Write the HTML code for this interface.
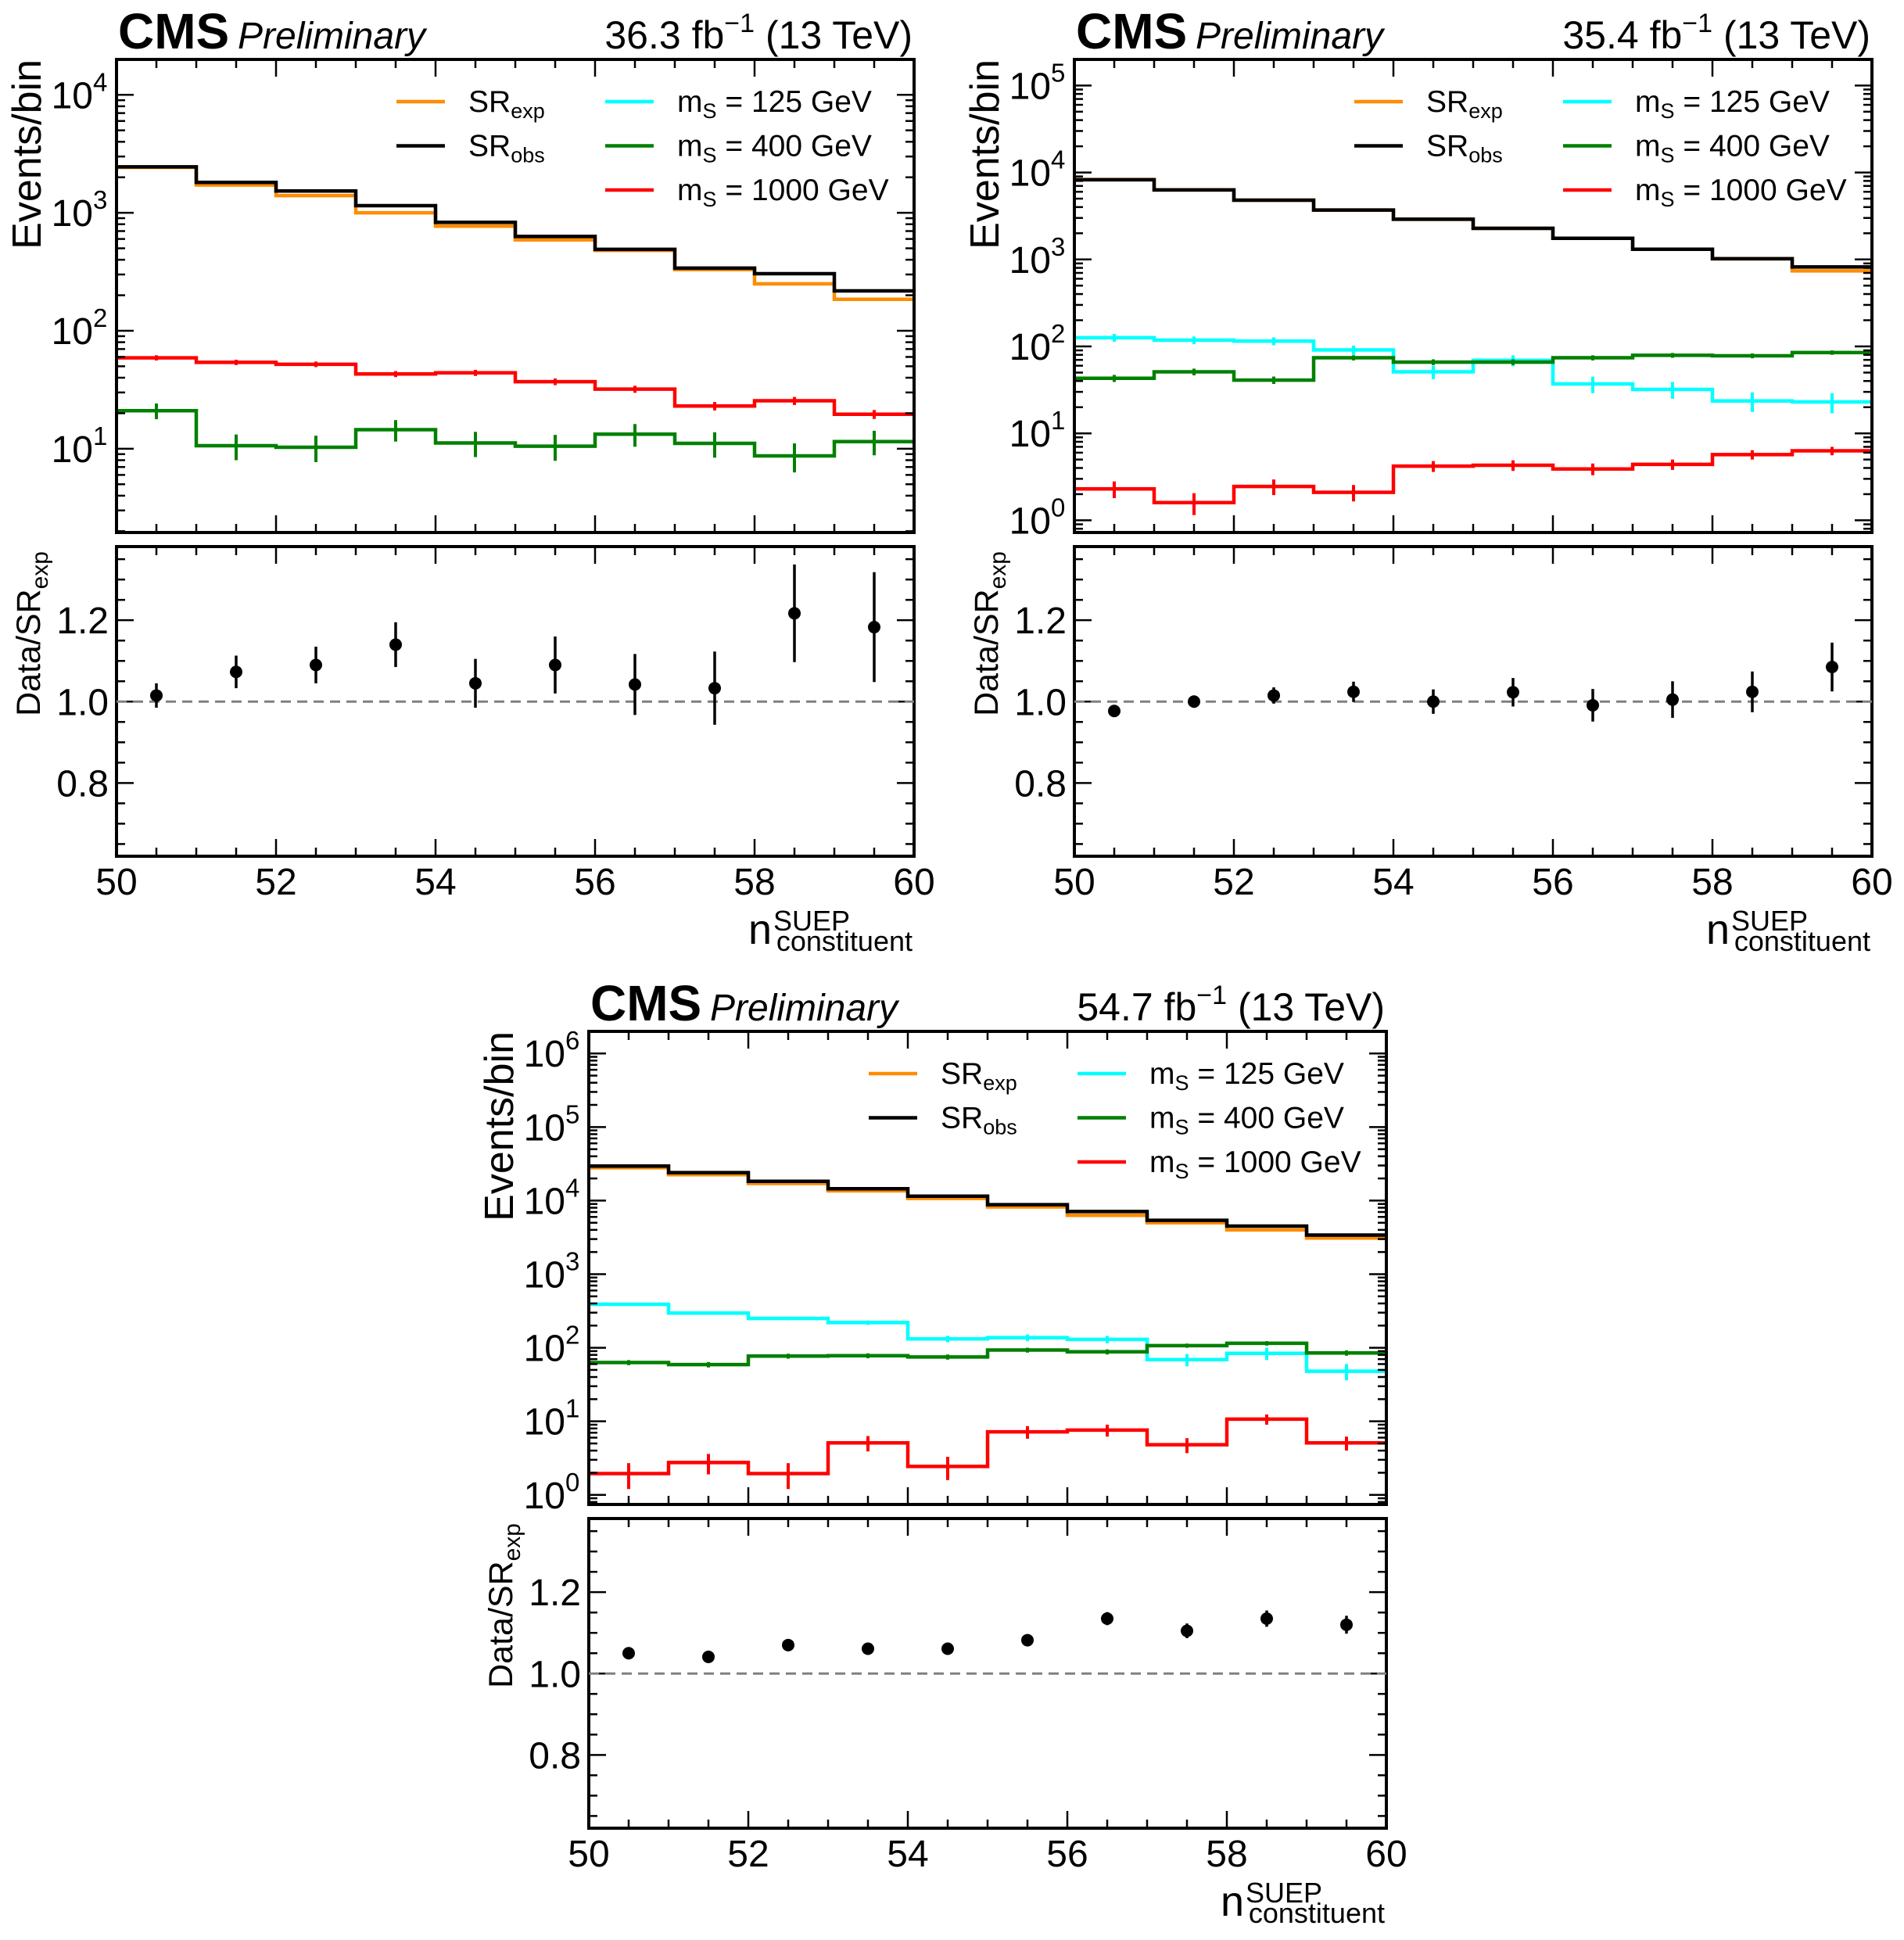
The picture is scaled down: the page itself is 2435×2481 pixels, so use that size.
<!DOCTYPE html>
<html><head><meta charset="utf-8"><style>
html,body{margin:0;padding:0;background:#fff}
svg{display:block;font-family:"Liberation Sans",Arial,sans-serif}
</style></head><body>
<svg id="fig" xmlns="http://www.w3.org/2000/svg" width="2435" height="2481" viewBox="0 0 2435 2481"></svg>
<script>
// ---------- data ----------
const binEdges = [50,51,52,53,54,55,56,57,58,59,60];
const xTicks = [50,52,54,56,58,60];
const ratioTicks = [0.8,1.0,1.2];

// Panel 1 (36.3 fb-1)
const p1Exp = [2430,1720,1400,1000,770,590,480,330,250,185];
const p1Obs = [2450,1810,1530,1150,830,630,490,340,305,218];
const p1Sig400 = [21,10.6,10.3,14.5,11.2,10.5,13.3,11.1,8.7,11.5];
const p1Sig400Err = [3.2,2.6,2.6,3.0,2.7,2.6,2.9,2.7,2.4,2.7];
const p1Sig1000 = [59,54,52,43,44,37,32,23,25.5,19.6];
const p1Sig1000Err = [3,2.8,2.8,2.5,2.6,2.4,2.2,1.9,2.0,1.7];
const p1Ratio = [1.015,1.073,1.09,1.14,1.045,1.09,1.042,1.033,1.217,1.183];
const p1RatioErr = [0.03,0.04,0.045,0.055,0.06,0.07,0.075,0.09,0.12,0.135];

// Panel 2 (35.4 fb-1)
const p2Exp = [8300,6300,4800,3700,2900,2280,1750,1310,1020,740];
const p2Obs = [8250,6300,4800,3700,2900,2280,1750,1310,1020,820];
const p2Sig125 = [126,118,115,91,51,69,37,32,23.6,23];
const p2Sig125Err = [13,12,12,11,9,10,8,7,6,6];
const p2Sig400 = [43,51,41,74,66,66,74,79,78,85];
const p2Sig400Err = [4,4.5,4,5,5,5,5,5,5,5];
const p2Sig1000 = [2.3,1.6,2.45,2.1,4.2,4.3,3.9,4.4,5.7,6.3];
const p2Sig1000Err = [0.5,0.45,0.5,0.45,0.6,0.6,0.6,0.6,0.7,0.7];
const p2Ratio = [0.977,1.0,1.015,1.024,1.0,1.023,0.991,1.005,1.024,1.085];
const p2RatioErr = [0.012,0.015,0.02,0.025,0.03,0.035,0.04,0.045,0.05,0.06];

// Panel 3 (54.7 fb-1)
const p3Exp = [28000,22500,17100,13600,10700,8200,6300,5000,4000,3100];
const p3Obs = [29500,24000,18300,14500,11500,8800,7100,5400,4500,3400];
const p3Sig125 = [390,296,250,220,132,137,130,69,84,48];
const p3Sig125Err = [15,14,14,15,13,14,15,13,16,12];
const p3Sig400 = [63,59,77,78,75,93,88,107,115,85];
const p3Sig400Err = [5,5,6,6,6,7,7,7,8,7];
const p3Sig1000 = [1.95,2.75,1.95,5.1,2.44,7.2,7.6,4.8,10.7,5.1];
const p3Sig1000Err = [0.75,0.85,0.75,1.2,0.85,1.4,1.4,1.1,1.7,1.1];
const p3Ratio = [1.05,1.041,1.07,1.061,1.061,1.082,1.135,1.105,1.135,1.12];
const p3RatioErr = [0.005,0.005,0.007,0.008,0.01,0.012,0.016,0.018,0.02,0.022];

// ---------- drawing ----------
const NS = "http://www.w3.org/2000/svg";
const svg = document.getElementById('fig');
function mk(tag, attrs, parent){
  const e = document.createElementNS(NS, tag);
  for (const k in attrs) e.setAttribute(k, attrs[k]);
  (parent||svg).appendChild(e);
  return e;
}
const COL = {exp:'#ff8c00', obs:'#000000', s125:'#00ffff', s400:'#008000', s1000:'#ff0000'};

function panel(cfg){
  const g = mk('g', {});
  
  
  const L = cfg.L, T = cfg.T, W = 1020, H = 605, RT = T + 623, RH = 396;
  const xs = v => L + (v - 50) / 10 * W;
  const ys = v => T + (cfg.ymax - Math.log10(v)) / (cfg.ymax - cfg.ymin) * H;
  const rs = v => RT + (1.381 - v) / (1.381 - 0.62) * RH;

  const cid = cfg.name + '-clip';
  const cp = mk('clipPath', {id: cid}, g);
  mk('rect', {x:L, y:T, width:W, height:H}, cp);
  const plot = mk('g', {'clip-path':'url(#' + cid + ')'}, g);

  function hist(vals, errs, color, nm, relTick){
    const sg = mk('g', {}, plot);
    
    
    let d = '';
    for (let i = 0; i < vals.length; i++){
      const y = ys(vals[i]);
      d += (i === 0 ? 'M' : 'L') + xs(binEdges[i]) + ' ' + y + ' L' + xs(binEdges[i+1]) + ' ' + y + ' ';
    }
    const p = mk('path', {d: d, fill:'none', stroke:color, 'stroke-width':4.5, 'stroke-linejoin':'miter'}, sg);
    
    
    for (let i = 0; i < vals.length; i++){
      const e = errs ? errs[i] : vals[i] * relTick;
      const xc = xs((binEdges[i] + binEdges[i+1]) / 2);
      const eb = mk('line', {x1:xc, x2:xc, y1:ys(vals[i] + e), y2:ys(Math.max(vals[i] - e, 1e-3)), stroke:color, 'stroke-width':4}, sg);
      
      
    }
  }
  cfg.series.forEach(s => hist(s.v, s.e, s.c, s.n, s.rel));

  [[T,H],[RT,RH]].forEach(([y0,h], idx) => {
    const fr = mk('rect', {x:L, y:y0, width:W, height:h, fill:'none', stroke:'#000', 'stroke-width':4}, g);
    
    
  });

  const tk = mk('g', {stroke:'#000', 'stroke-width':2.5}, g);
  
  
  for (let v = 50.5; v < 60; v += 0.5){
    const major = Math.abs(v/2 - Math.round(v/2)) < 1e-6;
    const len = major ? 22 : 11;
    const x = xs(v);
    [[T,H],[RT,RH]].forEach(([y0,h]) => {
      mk('line', {x1:x, x2:x, y1:y0, y2:y0+len}, tk);
      mk('line', {x1:x, x2:x, y1:y0+h, y2:y0+h-len}, tk);
    });
  }
  for (let dec = Math.floor(cfg.ymin); dec <= Math.ceil(cfg.ymax); dec++){
    for (let m = 1; m <= 9; m++){
      const lv = dec + Math.log10(m);
      if (lv < cfg.ymin || lv > cfg.ymax) continue;
      const y = ys(Math.pow(10, lv));
      const len = m === 1 ? 22 : 11;
      mk('line', {x1:L, x2:L+len, y1:y, y2:y}, tk);
      mk('line', {x1:L+W, x2:L+W-len, y1:y, y2:y}, tk);
      if (m === 1){
        const t = mk('text', {x:L-30, y:y+17, 'text-anchor':'end', 'font-size':48, fill:'#000', stroke:'none'}, g);
        
        
        t.textContent = '10';
        const s = mk('text', {x:L-30, y:y-5, 'text-anchor':'start', 'font-size':33, fill:'#000', stroke:'none'}, g);
        
        
        s.textContent = String(dec);
      }
    }
  }
  for (let k = 13; k <= 27; k++){
    const v = k * 0.05;
    const y = rs(v);
    const major = ratioTicks.some(r => Math.abs(r - v) < 1e-6);
    const len = major ? 22 : 11;
    mk('line', {x1:L, x2:L+len, y1:y, y2:y}, tk);
    mk('line', {x1:L+W, x2:L+W-len, y1:y, y2:y}, tk);
  }
  ratioTicks.forEach(r => {
    const t = mk('text', {x:L-10, y:rs(r)+17, 'text-anchor':'end', 'font-size':48, fill:'#000'}, g);
    
    
    t.textContent = r.toFixed(1);
  });
  xTicks.forEach(v => {
    const t = mk('text', {x:xs(v), y:RT+RH+49, 'text-anchor':'middle', 'font-size':48, fill:'#000'}, g);
    
    
    t.textContent = String(v);
  });

  const ref = mk('line', {x1:L, x2:L+W, y1:rs(1), y2:rs(1), stroke:'#808080', 'stroke-width':3, 'stroke-dasharray':'13 8'}, g);
  
  
  for (let i = 0; i < cfg.ratio.length; i++){
    const xc = xs((binEdges[i] + binEdges[i+1]) / 2);
    const el = mk('line', {x1:xc, x2:xc, y1:rs(cfg.ratio[i] + cfg.ratioErr[i]), y2:rs(cfg.ratio[i] - cfg.ratioErr[i]), stroke:'#000', 'stroke-width':3.5}, g);
    
    
    const c = mk('circle', {cx:xc, cy:rs(cfg.ratio[i]), r:8, fill:'#000'}, g);
    
    
  }

  const cms = mk('text', {x:L+2, y:T-14, 'font-size':64, 'font-weight':'bold', fill:'#000'}, g);
  
  
  cms.textContent = 'CMS';
  const pre = mk('text', {x:L+155, y:T-14, 'font-size':48, 'font-style':'italic', fill:'#000'}, g);
  
  
  pre.textContent = 'Preliminary';
  const lumi = mk('text', {x:L+W-2, y:T-14, 'text-anchor':'end', 'font-size':50, fill:'#000'}, g);
  
  
  lumi.innerHTML = cfg.lumi + ' fb<tspan font-size="34" dy="-21">−1</tspan><tspan dy="21"> (13 TeV)</tspan>';

  const yl = mk('text', {transform:'translate(' + (L-97) + ',' + T + ') rotate(-90)', 'text-anchor':'end', 'font-size':52, fill:'#000'}, g);
  
  
  yl.textContent = 'Events/bin';
  const rl = mk('text', {transform:'translate(' + (L-98) + ',' + (RT+6) + ') rotate(-90)', 'text-anchor':'end', 'font-size':43, fill:'#000'}, g);
  
  
  rl.innerHTML = 'Data/SR<tspan font-size="30" dy="10">exp</tspan>';
  const xb = RT + RH;
  const xl1 = mk('text', {x:L+W-2, y:xb+121, 'text-anchor':'end', 'font-size':36, fill:'#000'}, g);
  
  
  xl1.textContent = 'constituent';
  const sub0 = L + W - 2 - 178;
  const xl2 = mk('text', {x:sub0, y:xb+95, 'font-size':36, fill:'#000'}, g);
  
  
  xl2.textContent = 'SUEP';
  const xl3 = mk('text', {x:sub0-2, y:xb+112, 'text-anchor':'end', 'font-size':54, fill:'#000'}, g);
  
  
  xl3.textContent = 'n';

  const lg = mk('g', {}, g);
  
  
  const entries = [
    {c:COL.exp, col:0, row:0, html:'SR<tspan font-size="27" dy="8">exp</tspan>', n:'legend-entry-sr-exp'},
    {c:COL.obs, col:0, row:1, html:'SR<tspan font-size="27" dy="8">obs</tspan>', n:'legend-entry-sr-obs'},
    {c:COL.s125, col:1, row:0, html:'m<tspan font-size="27" dy="8">S</tspan><tspan dy="-8"> = 125 GeV</tspan>', n:'legend-entry-ms-125'},
    {c:COL.s400, col:1, row:1, html:'m<tspan font-size="27" dy="8">S</tspan><tspan dy="-8"> = 400 GeV</tspan>', n:'legend-entry-ms-400'},
    {c:COL.s1000, col:1, row:2, html:'m<tspan font-size="27" dy="8">S</tspan><tspan dy="-8"> = 1000 GeV</tspan>', n:'legend-entry-ms-1000'}
  ];
  entries.forEach(en => {
    const y = T + 54 + en.row * 56.5;
    const x0 = L + (en.col === 0 ? 358 : 625);
    const eg = mk('g', {}, lg);
    
    
    mk('line', {x1:x0, x2:x0+62, y1:y, y2:y, stroke:en.c, 'stroke-width':4.5}, eg);
    const t = mk('text', {x:x0 + 92, y:y+13, 'font-size':39, fill:'#000'}, eg);
    t.innerHTML = en.html;
  });
}

panel({name:'panel-36fb', L:149, T:76, ymin:0.29, ymax:4.30, lumi:'36.3',
  series:[
    {v:p1Exp, e:null, rel:0.025, c:COL.exp, n:'sr-exp-hist'},
    {v:p1Obs, e:null, rel:0.02, c:COL.obs, n:'sr-obs-hist'},
    {v:p1Sig1000, e:p1Sig1000Err, c:COL.s1000, n:'ms1000-hist'},
    {v:p1Sig400, e:p1Sig400Err, c:COL.s400, n:'ms400-hist'}
  ], ratio:p1Ratio, ratioErr:p1RatioErr});

panel({name:'panel-35fb', L:1374, T:76, ymin:-0.14, ymax:5.30, lumi:'35.4',
  series:[
    {v:p2Exp, e:null, rel:0.012, c:COL.exp, n:'sr-exp-hist'},
    {v:p2Obs, e:null, rel:0.012, c:COL.obs, n:'sr-obs-hist'},
    {v:p2Sig125, e:p2Sig125Err, c:COL.s125, n:'ms125-hist'},
    {v:p2Sig400, e:p2Sig400Err, c:COL.s400, n:'ms400-hist'},
    {v:p2Sig1000, e:p2Sig1000Err, c:COL.s1000, n:'ms1000-hist'}
  ], ratio:p2Ratio, ratioErr:p2RatioErr});

panel({name:'panel-54fb', L:753, T:1319, ymin:-0.13, ymax:6.30, lumi:'54.7',
  series:[
    {v:p3Exp, e:null, rel:0.006, c:COL.exp, n:'sr-exp-hist'},
    {v:p3Obs, e:null, rel:0.006, c:COL.obs, n:'sr-obs-hist'},
    {v:p3Sig125, e:p3Sig125Err, c:COL.s125, n:'ms125-hist'},
    {v:p3Sig400, e:p3Sig400Err, c:COL.s400, n:'ms400-hist'},
    {v:p3Sig1000, e:p3Sig1000Err, c:COL.s1000, n:'ms1000-hist'}
  ], ratio:p3Ratio, ratioErr:p3RatioErr});
</script>
</body></html>
